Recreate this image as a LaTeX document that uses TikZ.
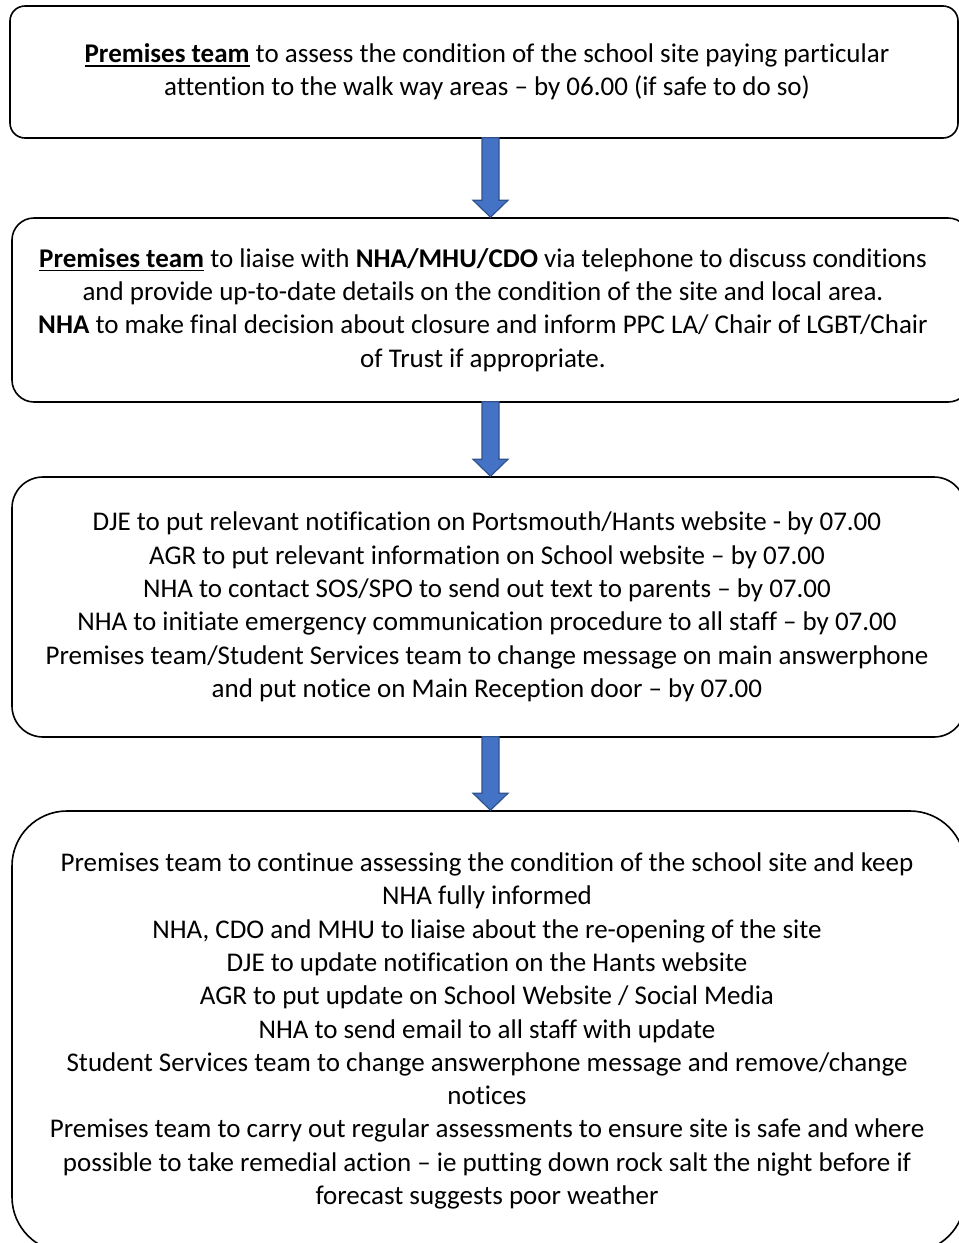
\documentclass[tikz,border=0pt]{standalone}
\usepackage{fontspec}
\setmainfont{Carlito}[Ligatures={NoCommon}]
\usetikzlibrary{calc}
\definecolor{arrowfill}{RGB}{68,114,196}
\definecolor{arrowedge}{RGB}{47,82,143}
\newcommand\uln[1]{\setbox0\hbox{#1}\rlap{\rule[-4pt]{\wd0}{1.8pt}}\box0\relax}
\newcommand\flowarrow[2]{%
  \path[blockarrow] ($(ax |- #1.south)+(-8.5,-1)$) -- ($(ax |- #2.north)+(-8.5,-17)$)
    -- ($(ax |- #2.north)+(-17.5,-17)$) -- (ax |- #2.north)
    -- ($(ax |- #2.north)+(17.5,-17)$) -- ($(ax |- #2.north)+(8.5,-17)$)
    -- ($(ax |- #1.south)+(8.5,-1)$) -- cycle;}
\begin{document}
\begin{tikzpicture}[x=1pt,y=-1pt,
  box/.style={draw=black, line width=1.6pt, fill=white, inner sep=0pt},
  txt/.style={align=center, font=\fontsize{27}{33.3}\selectfont, inner sep=0pt, text=black},
  blockarrow/.style={fill=arrowfill, draw=arrowedge, line width=1.2pt, line join=miter}]
\useasboundingbox (0,0) rectangle (959,1243);
\clip (0,0) rectangle (959,1243);
\coordinate (ax) at (490.5,0);
\node[box, rounded corners=15pt, minimum width=948pt, minimum height=132pt] (b1) at (484,72) {};
\node[box, rounded corners=22pt, minimum width=958pt, minimum height=184pt] (b2) at (491,310) {};
\node[box, rounded corners=31pt, minimum width=953pt, minimum height=260pt] (b3) at (488.5,607) {};
\node[box, rounded corners=55pt, minimum width=953pt, minimum height=441pt] (b4) at (488.5,1031.5) {};
\node[txt] (t1) at (487,72) {\uln{\textbf{Premises team}} to assess the condition of the school site paying particular\\attention to the walk way areas – by 06.00 (if safe to do so)};
\node[txt] (t2) at (483,310) {\uln{\textbf{Premises team}} to liaise with \textbf{NHA/MHU/CDO} via telephone to discuss conditions\\and provide up-to-date details on the condition of the site and local area.\\\textbf{NHA} to make final decision about closure and inform PPC LA/ Chair of LGBT/Chair\\of Trust if appropriate.};
\node[txt] (t3) at (487,607) {DJE to put relevant notification on Portsmouth/Hants website - by 07.00\\AGR to put relevant information on School website – by 07.00\\NHA to contact SOS/SPO to send out text to parents – by 07.00\\NHA to initiate emergency communication procedure to all staff – by 07.00\\Premises team/Student Services team to change message on main answerphone\\and put notice on Main Reception door – by 07.00};
\node[txt] (t4) at (487,1031) {Premises team to continue assessing the condition of the school site and keep\\NHA fully informed\\NHA, CDO and MHU to liaise about the re-opening of the site\\DJE to update notification on the Hants website\\AGR to put update on School Website / Social Media\\NHA to send email to all staff with update\\Student Services team to change answerphone message and remove/change\\notices\\Premises team to carry out regular assessments to ensure site is safe and where\\possible to take remedial action – ie putting down rock salt the night before if\\forecast suggests poor weather};
\flowarrow{b1}{b2}
\flowarrow{b2}{b3}
\flowarrow{b3}{b4}
\end{tikzpicture}
\end{document}
